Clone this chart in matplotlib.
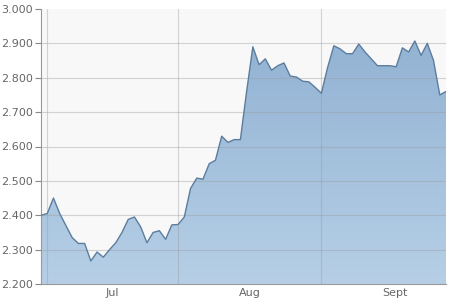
import numpy as np
import matplotlib
matplotlib.use('Agg')
import matplotlib.pyplot as plt
from matplotlib.ticker import FormatStrFormatter
from matplotlib.colors import LinearSegmentedColormap

# Daily closing values (trading days)
values = [
    2.400, 2.405, 2.450, 2.405, 2.370, 2.335, 2.318, 2.318, 2.267, 2.293,
    2.278, 2.300, 2.320, 2.350, 2.388, 2.395, 2.366, 2.320, 2.350, 2.355,
    2.330, 2.372, 2.373, 2.395, 2.478, 2.508, 2.505, 2.550, 2.560, 2.630,
    2.612, 2.620, 2.620, 2.760, 2.890, 2.838, 2.855, 2.822, 2.835, 2.843,
    2.805, 2.802, 2.790, 2.788, 2.772, 2.755, 2.830, 2.893, 2.884, 2.870,
    2.870, 2.898, 2.875, 2.855, 2.835, 2.835, 2.835, 2.832, 2.887, 2.875,
    2.907, 2.865, 2.900, 2.850, 2.750, 2.760,
]
month_labels = ['Jul', 'Aug', 'Sept']
month_starts = [1, 22, 45, 68.6]   # index where each month begins
y_ticks = [2.2, 2.3, 2.4, 2.5, 2.6, 2.7, 2.8, 2.9, 3.0]

x = np.arange(len(values))
y = np.array(values)

fig = plt.figure(figsize=(4.5, 3.0), dpi=100)
ax = fig.add_axes([41 / 450, 16 / 300, 405 / 450, 275 / 300])
ax.set_facecolor('#f8f8f8')

ymin, ymax = 2.2, 3.0
ax.set_xlim(0, len(values) - 1)
ax.set_ylim(ymin, ymax)

# gradient fill under the line
cmap = LinearSegmentedColormap.from_list('fill', ['#b6cfe6', '#8eafd1'])
grad = np.linspace(0, 1, 256).reshape(-1, 1)
img = ax.imshow(grad, extent=[0, len(values) - 1, ymin, ymax], origin='lower',
                aspect='auto', cmap=cmap, zorder=1)
poly = ax.fill_between(x, y, ymin, color='none', lw=0)
clip = poly.get_paths()[0]
img.set_clip_path(clip, transform=ax.transData)
ax.plot(x, y, color='#5c7d9e', lw=1.0, zorder=4)

# grid, drawn over the fill so it shows through faintly
for t in y_ticks[1:-1]:
    ax.axhline(t, color='#9a9a9a', lw=0.8, alpha=0.4, zorder=3)
for s in month_starts[:3]:
    ax.axvline(s, color='#9a9a9a', lw=0.8, alpha=0.4, zorder=3)

ax.set_yticks(y_ticks)
ax.yaxis.set_major_formatter(FormatStrFormatter('%.3f'))
mids = [(month_starts[i] + month_starts[i + 1]) / 2 for i in range(3)]
ax.set_xticks(mids)
ax.set_xticklabels(month_labels)
ax.tick_params(axis='y', length=4, width=0.8, color='#888888', labelcolor='#666666',
               labelsize=8, pad=2)
ax.tick_params(axis='x', length=0, labelcolor='#666666', labelsize=8, pad=3)

for side in ['top', 'right']:
    ax.spines[side].set_visible(False)
for side in ['left', 'bottom']:
    ax.spines[side].set_color('#999999')
    ax.spines[side].set_linewidth(0.8)

fig.savefig('out.png', dpi=100, facecolor='white')
